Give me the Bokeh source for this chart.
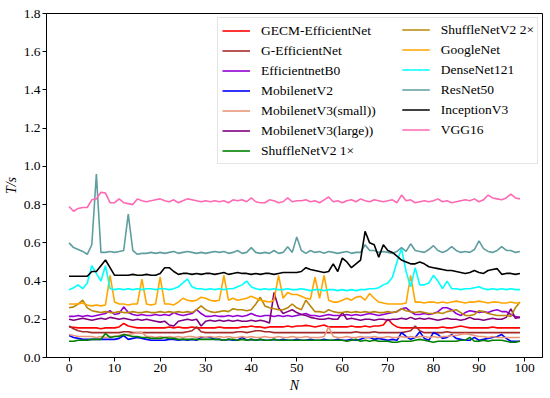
from bokeh.plotting import figure
from bokeh.models import Range1d, FixedTicker, PrintfTickFormatter, Legend, LegendItem
from bokeh.embed import file_html
from bokeh.resources import INLINE

N = list(range(100))

gecm_efficientnet = [
    0.16, 0.158, 0.155, 0.155, 0.155, 0.155, 0.155, 0.15, 0.155, 0.155,
    0.155, 0.16, 0.178, 0.165, 0.16, 0.155, 0.155, 0.155, 0.155, 0.155,
    0.155, 0.155, 0.16, 0.155, 0.16, 0.155, 0.155, 0.16, 0.155, 0.155,
    0.155, 0.155, 0.155, 0.16, 0.155, 0.155, 0.155, 0.155, 0.16, 0.16,
    0.165, 0.16, 0.16, 0.155, 0.16, 0.16, 0.16, 0.16, 0.165, 0.16,
    0.165, 0.165, 0.168, 0.165, 0.16, 0.165, 0.17, 0.16, 0.16, 0.16,
    0.16, 0.16, 0.165, 0.16, 0.16, 0.165, 0.16, 0.165, 0.165, 0.17,
    0.20, 0.175, 0.16, 0.155, 0.155, 0.155, 0.155, 0.155, 0.155, 0.155,
    0.155, 0.155, 0.16, 0.155, 0.155, 0.16, 0.165, 0.16, 0.155, 0.155,
    0.155, 0.155, 0.155, 0.16, 0.155, 0.155, 0.155, 0.155, 0.155, 0.155]

g_efficientnet = [
    0.165, 0.15, 0.14, 0.135, 0.135, 0.13, 0.13, 0.13, 0.13, 0.13,
    0.13, 0.13, 0.135, 0.135, 0.13, 0.13, 0.13, 0.13, 0.13, 0.13,
    0.13, 0.13, 0.13, 0.13, 0.13, 0.13, 0.135, 0.14, 0.16, 0.135,
    0.13, 0.13, 0.13, 0.13, 0.13, 0.13, 0.13, 0.135, 0.135, 0.13,
    0.135, 0.14, 0.14, 0.135, 0.135, 0.13, 0.13, 0.13, 0.13, 0.13,
    0.13, 0.13, 0.13, 0.13, 0.13, 0.13, 0.13, 0.13, 0.13, 0.13,
    0.13, 0.13, 0.13, 0.135, 0.13, 0.13, 0.13, 0.135, 0.13, 0.13,
    0.13, 0.13, 0.13, 0.13, 0.135, 0.14, 0.165, 0.14, 0.13, 0.13,
    0.13, 0.13, 0.13, 0.135, 0.13, 0.13, 0.13, 0.13, 0.13, 0.13,
    0.13, 0.13, 0.13, 0.13, 0.13, 0.13, 0.13, 0.13, 0.13, 0.13]

efficientnet_b0 = [
    0.215, 0.215, 0.22, 0.215, 0.22, 0.215, 0.22, 0.225, 0.23, 0.245,
    0.225, 0.23, 0.265, 0.235, 0.225, 0.22, 0.225, 0.22, 0.22, 0.225,
    0.22, 0.225, 0.22, 0.235, 0.225, 0.22, 0.225, 0.23, 0.25, 0.23,
    0.215, 0.215, 0.22, 0.215, 0.215, 0.22, 0.215, 0.22, 0.215, 0.22,
    0.23, 0.22, 0.215, 0.22, 0.22, 0.215, 0.22, 0.215, 0.22, 0.215,
    0.22, 0.225, 0.23, 0.22, 0.22, 0.215, 0.22, 0.225, 0.22, 0.22,
    0.22, 0.225, 0.22, 0.225, 0.22, 0.225, 0.23, 0.225, 0.22, 0.225,
    0.23, 0.235, 0.24, 0.255, 0.26, 0.24, 0.225, 0.225, 0.23, 0.225,
    0.23, 0.24, 0.26, 0.26, 0.25, 0.23, 0.22, 0.235, 0.245, 0.24,
    0.235, 0.24, 0.235, 0.245, 0.25, 0.24, 0.24, 0.225, 0.215, 0.21]

mobilenet_v2 = [
    0.115, 0.105, 0.10, 0.095, 0.095, 0.095, 0.095, 0.095, 0.095, 0.095,
    0.095, 0.10, 0.115, 0.095, 0.10, 0.105, 0.10, 0.095, 0.09, 0.09,
    0.09, 0.09, 0.095, 0.095, 0.09, 0.095, 0.09, 0.095, 0.09, 0.105,
    0.105, 0.105, 0.095, 0.095, 0.09, 0.095, 0.09, 0.09, 0.105, 0.09,
    0.095, 0.09, 0.095, 0.09, 0.09, 0.095, 0.09, 0.095, 0.09, 0.09,
    0.095, 0.09, 0.09, 0.095, 0.09, 0.09, 0.095, 0.09, 0.09, 0.095,
    0.09, 0.09, 0.095, 0.09, 0.095, 0.105, 0.105, 0.095, 0.10, 0.095,
    0.09, 0.095, 0.09, 0.13, 0.11, 0.095, 0.105, 0.135, 0.10, 0.09,
    0.13, 0.12, 0.10, 0.105, 0.12, 0.10, 0.095, 0.09, 0.09, 0.105,
    0.09, 0.095, 0.10, 0.105, 0.11, 0.12, 0.10, 0.085, 0.085, 0.085]

mobilenet_v3_small = [
    0.12, 0.115, 0.11, 0.11, 0.11, 0.11, 0.105, 0.11, 0.105, 0.11,
    0.11, 0.115, 0.12, 0.12, 0.125, 0.13, 0.13, 0.11, 0.11, 0.105,
    0.11, 0.105, 0.11, 0.105, 0.11, 0.105, 0.11, 0.11, 0.105, 0.11,
    0.105, 0.11, 0.105, 0.11, 0.105, 0.11, 0.105, 0.105, 0.11, 0.105,
    0.11, 0.105, 0.105, 0.11, 0.105, 0.105, 0.11, 0.105, 0.105, 0.11,
    0.105, 0.105, 0.11, 0.105, 0.105, 0.105, 0.11, 0.16, 0.11, 0.105,
    0.105, 0.11, 0.105, 0.105, 0.11, 0.105, 0.105, 0.11, 0.105, 0.105,
    0.11, 0.105, 0.105, 0.11, 0.105, 0.11, 0.105, 0.11, 0.11, 0.105,
    0.11, 0.105, 0.11, 0.11, 0.115, 0.115, 0.12, 0.125, 0.12, 0.115,
    0.11, 0.11, 0.105, 0.11, 0.105, 0.105, 0.105, 0.105, 0.105, 0.105]

mobilenet_v3_large = [
    0.20, 0.195, 0.20, 0.205, 0.20, 0.195, 0.20, 0.205, 0.20, 0.21,
    0.205, 0.20, 0.205, 0.20, 0.195, 0.20, 0.195, 0.20, 0.195, 0.19,
    0.185, 0.19, 0.17, 0.165, 0.19, 0.195, 0.20, 0.195, 0.20, 0.165,
    0.19, 0.195, 0.19, 0.195, 0.19, 0.195, 0.19, 0.195, 0.19, 0.19,
    0.195, 0.19, 0.195, 0.19, 0.18, 0.34, 0.26, 0.23, 0.24, 0.25,
    0.235, 0.225, 0.22, 0.21, 0.205, 0.20, 0.20, 0.205, 0.20, 0.20,
    0.235, 0.20, 0.205, 0.20, 0.195, 0.20, 0.20, 0.195, 0.20, 0.20,
    0.195, 0.20, 0.20, 0.205, 0.20, 0.21, 0.20, 0.205, 0.20, 0.205,
    0.20, 0.195, 0.20, 0.205, 0.20, 0.20, 0.195, 0.20, 0.21, 0.20,
    0.20, 0.195, 0.20, 0.205, 0.20, 0.20, 0.21, 0.255, 0.205, 0.21]

shufflenet_v2_1x = [
    0.085, 0.085, 0.09, 0.09, 0.09, 0.095, 0.095, 0.095, 0.125, 0.105,
    0.11, 0.11, 0.12, 0.115, 0.11, 0.11, 0.105, 0.105, 0.10, 0.10,
    0.10, 0.105, 0.10, 0.10, 0.095, 0.095, 0.095, 0.095, 0.095, 0.095,
    0.095, 0.095, 0.095, 0.095, 0.09, 0.095, 0.095, 0.09, 0.095, 0.09,
    0.095, 0.09, 0.095, 0.09, 0.09, 0.095, 0.09, 0.09, 0.09, 0.09,
    0.09, 0.09, 0.09, 0.09, 0.09, 0.09, 0.09, 0.09, 0.09, 0.09,
    0.09, 0.085, 0.09, 0.095, 0.085, 0.09, 0.085, 0.09, 0.085, 0.085,
    0.085, 0.08, 0.08, 0.085, 0.085, 0.085, 0.09, 0.095, 0.09, 0.085,
    0.08, 0.085, 0.085, 0.085, 0.085, 0.085, 0.09, 0.09, 0.105, 0.085,
    0.085, 0.09, 0.085, 0.09, 0.09, 0.09, 0.085, 0.08, 0.08, 0.085]

shufflenet_v2_2x = [
    0.26, 0.265, 0.28, 0.30, 0.26, 0.245, 0.24, 0.235, 0.24, 0.235,
    0.235, 0.24, 0.235, 0.235, 0.24, 0.235, 0.235, 0.24, 0.235, 0.235,
    0.24, 0.235, 0.24, 0.235, 0.24, 0.235, 0.24, 0.235, 0.25, 0.27,
    0.25, 0.24, 0.235, 0.24, 0.245, 0.24, 0.255, 0.25, 0.25, 0.245,
    0.25, 0.28, 0.315, 0.27, 0.26, 0.255, 0.25, 0.25, 0.26, 0.28,
    0.26, 0.25, 0.30, 0.27, 0.24, 0.24, 0.235, 0.25, 0.24, 0.235,
    0.235, 0.24, 0.235, 0.24, 0.235, 0.24, 0.235, 0.24, 0.235, 0.235,
    0.24, 0.235, 0.24, 0.255, 0.245, 0.24, 0.235, 0.24, 0.235, 0.23,
    0.23, 0.235, 0.23, 0.24, 0.245, 0.25, 0.235, 0.22, 0.22, 0.225,
    0.245, 0.24, 0.23, 0.225, 0.22, 0.22, 0.22, 0.215, 0.26, 0.29]

googlenet = [
    0.28, 0.28, 0.28, 0.285, 0.275, 0.27, 0.275, 0.27, 0.275, 0.43,
    0.29, 0.28, 0.28, 0.275, 0.28, 0.28, 0.41, 0.28, 0.275, 0.28,
    0.42, 0.28, 0.28, 0.275, 0.29, 0.31, 0.30, 0.295, 0.30, 0.315,
    0.31, 0.30, 0.295, 0.30, 0.43, 0.30, 0.31, 0.30, 0.305, 0.31,
    0.32, 0.31, 0.30, 0.295, 0.29, 0.30, 0.43, 0.31, 0.34, 0.33,
    0.33, 0.32, 0.31, 0.305, 0.42, 0.31, 0.43, 0.30, 0.29, 0.29,
    0.30, 0.31, 0.30, 0.315, 0.32, 0.30, 0.335, 0.31, 0.29, 0.285,
    0.28, 0.28, 0.28, 0.28, 0.285, 0.43, 0.29, 0.29, 0.285, 0.29,
    0.29, 0.285, 0.29, 0.285, 0.29, 0.295, 0.29, 0.285, 0.29, 0.29,
    0.295, 0.29, 0.285, 0.29, 0.29, 0.285, 0.285, 0.29, 0.285, 0.285]

densenet121 = [
    0.355, 0.365, 0.38, 0.36, 0.39, 0.48, 0.44, 0.40, 0.48, 0.36,
    0.355, 0.36, 0.355, 0.36, 0.355, 0.36, 0.355, 0.36, 0.36, 0.355,
    0.36, 0.36, 0.355, 0.36, 0.37, 0.39, 0.41, 0.37, 0.36, 0.36,
    0.355, 0.36, 0.355, 0.36, 0.355, 0.36, 0.36, 0.37, 0.38, 0.40,
    0.37, 0.36, 0.355, 0.36, 0.355, 0.36, 0.355, 0.355, 0.36, 0.355,
    0.355, 0.36, 0.355, 0.35, 0.355, 0.355, 0.35, 0.355, 0.355, 0.35,
    0.355, 0.35, 0.355, 0.35, 0.355, 0.355, 0.36, 0.36, 0.365, 0.38,
    0.39, 0.42, 0.50, 0.57, 0.45, 0.37, 0.47, 0.38, 0.38, 0.39,
    0.43, 0.40, 0.36, 0.40, 0.36, 0.36, 0.355, 0.36, 0.36, 0.365,
    0.37, 0.36, 0.355, 0.36, 0.355, 0.36, 0.355, 0.36, 0.355, 0.355]

resnet50 = [
    0.60, 0.575, 0.565, 0.555, 0.54, 0.59, 0.96, 0.55, 0.55, 0.555,
    0.55, 0.555, 0.56, 0.75, 0.56, 0.54, 0.545, 0.545, 0.55, 0.545,
    0.55, 0.545, 0.55, 0.555, 0.545, 0.55, 0.555, 0.55, 0.545, 0.55,
    0.545, 0.55, 0.555, 0.55, 0.555, 0.545, 0.55, 0.56, 0.545, 0.55,
    0.575, 0.55, 0.545, 0.55, 0.545, 0.56, 0.545, 0.55, 0.58, 0.55,
    0.63, 0.56, 0.545, 0.56, 0.55, 0.555, 0.545, 0.555, 0.55, 0.545,
    0.55, 0.555, 0.545, 0.55, 0.55, 0.59, 0.56, 0.56, 0.55, 0.555,
    0.55, 0.545, 0.555, 0.575, 0.555, 0.595, 0.56, 0.555, 0.55, 0.565,
    0.585, 0.56, 0.55, 0.56, 0.58, 0.56, 0.55, 0.555, 0.55, 0.565,
    0.61, 0.57, 0.555, 0.55, 0.56, 0.58, 0.56, 0.56, 0.55, 0.555]

inception_v3 = [
    0.425, 0.425, 0.425, 0.425, 0.425, 0.45, 0.45, 0.48, 0.51, 0.47,
    0.43, 0.43, 0.43, 0.43, 0.435, 0.43, 0.43, 0.435, 0.43, 0.43,
    0.44, 0.47, 0.47, 0.45, 0.435, 0.44, 0.44, 0.435, 0.44, 0.435,
    0.44, 0.44, 0.435, 0.44, 0.445, 0.435, 0.44, 0.445, 0.44, 0.44,
    0.435, 0.44, 0.435, 0.44, 0.44, 0.435, 0.44, 0.445, 0.445, 0.445,
    0.445, 0.45, 0.47, 0.46, 0.455, 0.45, 0.445, 0.45, 0.49, 0.45,
    0.52, 0.50, 0.47, 0.49, 0.51, 0.66, 0.60, 0.59, 0.525, 0.59,
    0.56, 0.55, 0.53, 0.51, 0.50, 0.49, 0.49, 0.50, 0.49, 0.475,
    0.47, 0.465, 0.46, 0.455, 0.455, 0.45, 0.445, 0.44, 0.445, 0.455,
    0.445, 0.44, 0.455, 0.46, 0.465, 0.435, 0.44, 0.44, 0.435, 0.44]

vgg16 = [
    0.79, 0.765, 0.78, 0.785, 0.785, 0.825, 0.83, 0.865, 0.86, 0.81,
    0.81, 0.83, 0.81, 0.805, 0.80, 0.83, 0.82, 0.815, 0.82, 0.825,
    0.83, 0.82, 0.815, 0.825, 0.81, 0.82, 0.83, 0.825, 0.82, 0.815,
    0.82, 0.815, 0.82, 0.815, 0.82, 0.81, 0.825, 0.82, 0.825, 0.815,
    0.835, 0.815, 0.81, 0.81, 0.825, 0.82, 0.81, 0.815, 0.835, 0.815,
    0.82, 0.82, 0.825, 0.815, 0.82, 0.81, 0.825, 0.84, 0.815, 0.82,
    0.81, 0.82, 0.825, 0.815, 0.83, 0.82, 0.815, 0.825, 0.82, 0.815,
    0.82, 0.825, 0.81, 0.85, 0.82, 0.825, 0.81, 0.815, 0.82, 0.815,
    0.82, 0.83, 0.815, 0.82, 0.81, 0.815, 0.82, 0.825, 0.82, 0.83,
    0.815, 0.825, 0.85, 0.835, 0.83, 0.825, 0.835, 0.855, 0.835, 0.83]

labels = ["GECM-EfficientNet", "G-EfficientNet", "EfficientnetB0", "MobilenetV2",
          "MobilenetV3(small))", "MobilenetV3(large))", "ShuffleNetV2 1\u00d7",
          "ShuffleNetV2 2\u00d7", "GoogleNet", "DenseNet121", "ResNet50",
          "InceptionV3", "VGG16"]
series = [gecm_efficientnet, g_efficientnet, efficientnet_b0, mobilenet_v2,
          mobilenet_v3_small, mobilenet_v3_large, shufflenet_v2_1x,
          shufflenet_v2_2x, googlenet, densenet121, resnet50, inception_v3, vgg16]
colors = ["#ff0000", "#a52a2a", "#9400d3", "#0000ff", "#e9967a", "#800080",
          "#008000", "#b8860b", "#ffa500", "#00ffff", "#5f9ea0", "#000000", "#ff69b4"]

y_ticks = [0.0, 0.2, 0.4, 0.6, 0.8, 1.0, 1.2, 1.4, 1.6, 1.8]
x_ticks = [0, 10, 20, 30, 40, 50, 60, 70, 80, 90, 100]

FONT = "Liberation Serif"

p = figure(width=550, height=398, output_backend="svg", toolbar_location=None,
           x_range=Range1d(-4.95, 103.95), y_range=Range1d(0, 1.8),
           min_border_left=43, min_border_right=8, min_border_top=13, min_border_bottom=41)
p.background_fill_color = "white"
p.border_fill_color = "white"
p.outline_line_color = "black"
p.outline_line_width = 1
p.xgrid.visible = False
p.ygrid.visible = False

renderers = []
for ys, c in zip(series, colors):
    r = p.line(N, ys, line_color=c, line_width=1.6)
    renderers.append(r)

for ax in (p.xaxis[0], p.yaxis[0]):
    ax.axis_line_color = "black"
    ax.major_tick_line_color = "black"
    ax.major_tick_out = 4
    ax.major_tick_in = 0
    ax.minor_tick_line_color = None
    ax.major_label_text_font = FONT
    ax.major_label_text_font_size = "13.5px"
    ax.major_label_text_color = "black"
    ax.axis_label_text_font = FONT
    ax.axis_label_text_font_style = "italic"
    ax.axis_label_text_font_size = "14px"
    ax.axis_label_text_color = "black"
    ax.major_label_standoff = 2

p.xaxis.ticker = FixedTicker(ticks=x_ticks)
p.yaxis.ticker = FixedTicker(ticks=y_ticks)
p.yaxis.formatter = PrintfTickFormatter(format="%.1f")
p.xaxis.axis_label = "N"
p.yaxis.axis_label = "T/s"
p.xaxis.axis_label_standoff = 3
p.yaxis.axis_label_standoff = 2

items1 = [LegendItem(label=labels[i], renderers=[renderers[i]]) for i in range(7)]
items2 = [LegendItem(label=labels[i], renderers=[renderers[i]]) for i in range(7, 13)]

def style(leg):
    leg.location = "top_right"
    leg.margin = 4
    leg.padding = 4
    leg.spacing = 3
    leg.label_height = 17
    leg.glyph_height = 17
    leg.glyph_width = 28
    leg.label_standoff = 11
    leg.label_text_font = FONT
    leg.label_text_font_size = "13.5px"
    leg.label_text_color = "black"

leg1 = Legend(items=items1)
style(leg1)
leg1.label_width = 272
leg1.border_line_color = "#cccccc"
leg1.border_line_width = 1
leg1.background_fill_color = "white"
leg1.background_fill_alpha = 0.9

leg2 = Legend(items=items2)
style(leg2)
leg2.border_line_alpha = 0
leg2.background_fill_alpha = 0

p.add_layout(leg1)
p.add_layout(leg2)

open("out.html", "w").write(file_html(p, INLINE))
